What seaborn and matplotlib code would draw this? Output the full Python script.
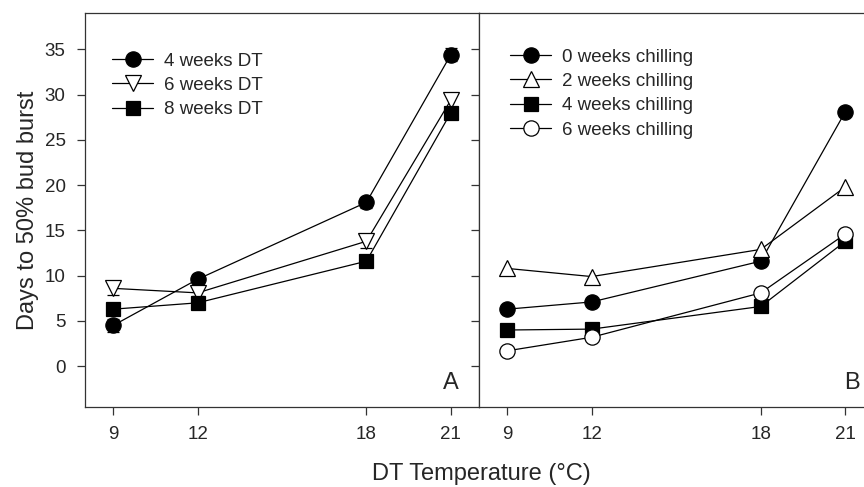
import matplotlib
matplotlib.use("Agg")
import matplotlib.pyplot as plt
import seaborn as sns
import pandas as pd

sns.set_theme(style="ticks")
plt.rcParams['font.family'] = ['Liberation Sans', 'DejaVu Sans']

temps = [9, 12, 18, 21]

# Panel A: duration of DT
dt_labels = ["4 weeks DT", "6 weeks DT", "8 weeks DT"]
dt4 = [4.5, 9.6, 18.1, 34.4]
dt6 = [8.6, 8.1, 13.8, 29.4]
dt8 = [6.3, 7.0, 11.6, 28.0]
dt4_err = [0.7, 0.6, 0.6, 0.7]
dt6_err = [0.7, 0.4, 0.8, 0.8]
dt8_err = [0.5, 0.4, 0.5, 0.5]

# Panel B: chilling
ch_labels = ["0 weeks chilling", "2 weeks chilling", "4 weeks chilling", "6 weeks chilling"]
ch0 = [6.3, 7.1, 11.6, 28.1]
ch2 = [10.8, 9.9, 12.9, 19.8]
ch4 = [4.0, 4.1, 6.6, 13.8]
ch6 = [1.7, 3.2, 8.1, 14.6]

W, H = 864, 487
fig = plt.figure(figsize=(8.64, 4.87), dpi=100)
axA = fig.add_axes([85/W, 80/H, 394/W, 394/H])
axB = fig.add_axes([479/W, 80/H, 394.5/W, 394/H], sharey=axA)

def draw(ax, vals, errs, label, marker, mfc, ms):
    df = pd.DataFrame({"T": temps, "v": vals})
    if errs is not None:
        ax.errorbar(temps, vals, yerr=errs, fmt="none", ecolor="black",
                    elinewidth=0.9, capsize=4, capthick=0.9, zorder=2)
    sns.lineplot(data=df, x="T", y="v", ax=ax, color="black", linewidth=0.9,
                 marker=marker, markersize=ms, markerfacecolor=mfc,
                 markeredgecolor="black", markeredgewidth=0.9, label=label,
                 zorder=3)

draw(axA, dt4, dt4_err, dt_labels[0], "o", "black", 11)
draw(axA, dt6, dt6_err, dt_labels[1], "v", "white", 11)
draw(axA, dt8, dt8_err, dt_labels[2], "s", "black", 9.5)

draw(axB, ch0, None, ch_labels[0], "o", "black", 11)
draw(axB, ch2, None, ch_labels[1], "^", "white", 11)
draw(axB, ch4, None, ch_labels[2], "s", "black", 9.5)
draw(axB, ch6, None, ch_labels[3], "o", "white", 11)

anchors = {axA: (0.0495, 0.919), axB: (0.0596, 0.929)}
for ax in (axA, axB):
    ax.set_xlim(8, 22)
    ax.set_ylim(-4.5, 39)
    ax.set_xticks(temps)
    ax.set_yticks([0, 5, 10, 15, 20, 25, 30, 35])
    ax.set_xlabel("")
    ax.set_ylabel("")
    for s in ax.spines.values():
        s.set_linewidth(0.9)
        s.set_color("#333333")
    ax.tick_params(axis="both", direction="out", length=6, width=0.9,
                   labelsize=13.5, color="#333333", pad=8)
    ax.legend(loc="upper left", bbox_to_anchor=anchors[ax], frameon=False,
              fontsize=13.5, handlelength=2.2, handletextpad=0.55,
              labelspacing=0.385, borderaxespad=0)

axB.tick_params(axis="y", labelleft=False)
axA.set_ylabel("Days to 50% bud burst", fontsize=17)
fig.text(481/W, 1 - 474/H, "DT Temperature (°C)", fontsize=17, ha="center", va="center")

fig.text(451/W, 1 - 383/H, "A", fontsize=17, ha="center", va="center")
fig.text(852/W, 1 - 383/H, "B", fontsize=17, ha="center", va="center")

fig.savefig("out.png", dpi=100)
